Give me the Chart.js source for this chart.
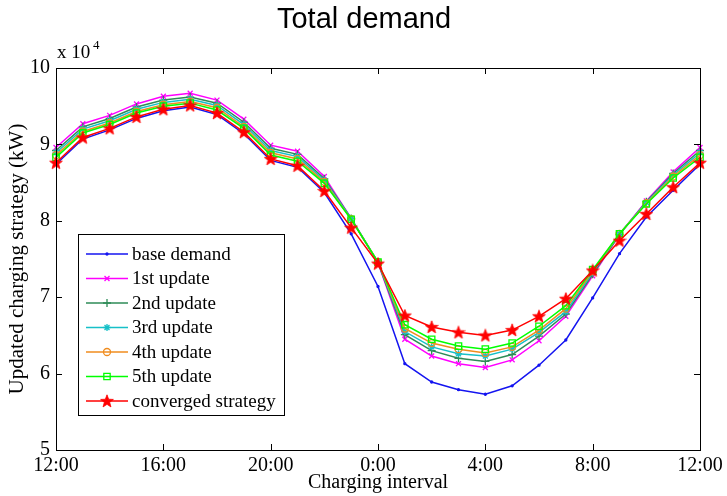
<!DOCTYPE html>
<html>
<head>
<meta charset="utf-8">
<script src="https://cdn.jsdelivr.net/npm/chart.js@4.4.0/dist/chart.umd.min.js"></script>
<style>
  html, body { margin: 0; padding: 0; background: #ffffff; }
  #wrap { width: 727px; height: 496px; position: relative; }
</style>
</head>
<body>
<div id="wrap"><canvas id="c" width="727" height="496"></canvas></div>
<script>
// ---- data (values in units of 10^4 kW), hour offsets 0..24 from 12:00 ----
const hours = [0,1,2,3,4,5,6,7,8,9,10,11,12,13,14,15,16,17,18,19,20,21,22,23,24];
const xTickLabels = ['12:00','16:00','20:00','0:00','4:00','8:00','12:00'];
const yTickLabels = ['5','6','7','8','9','10'];
const seriesNames = ['base demand','1st update','2nd update','3rd update','4th update','5th update','converged strategy'];

const baseDemand = [8.74,9.07,9.19,9.34,9.44,9.49,9.39,9.14,8.79,8.70,8.37,7.83,7.14,6.13,5.89,5.79,5.73,5.84,6.11,6.44,6.99,7.57,8.05,8.40,8.74];
const update1    = [8.96,9.27,9.38,9.53,9.63,9.67,9.58,9.33,8.99,8.91,8.58,8.03,7.45,6.45,6.23,6.13,6.08,6.18,6.43,6.75,7.28,7.82,8.26,8.64,8.96];
const update2    = [8.92,9.23,9.34,9.49,9.58,9.62,9.54,9.29,8.95,8.87,8.55,8.03,7.45,6.51,6.30,6.20,6.16,6.25,6.49,6.78,7.30,7.82,8.25,8.62,8.92];
const update3    = [8.89,9.20,9.31,9.46,9.55,9.59,9.51,9.26,8.92,8.84,8.53,8.03,7.46,6.55,6.35,6.26,6.23,6.32,6.54,6.81,7.32,7.83,8.24,8.60,8.89];
const update4    = [8.86,9.17,9.28,9.43,9.52,9.56,9.48,9.23,8.89,8.81,8.51,8.02,7.46,6.59,6.40,6.32,6.27,6.35,6.57,6.85,7.34,7.83,8.23,8.58,8.86];
const update5    = [8.83,9.15,9.26,9.41,9.50,9.54,9.45,9.21,8.86,8.78,8.49,8.02,7.46,6.64,6.45,6.36,6.32,6.40,6.62,6.89,7.36,7.83,8.22,8.56,8.83];
const converged  = [8.76,9.09,9.21,9.36,9.46,9.51,9.41,9.16,8.81,8.72,8.39,7.91,7.44,6.76,6.61,6.54,6.50,6.57,6.75,6.98,7.35,7.74,8.09,8.44,8.76];

const allSeries = [baseDemand, update1, update2, update3, update4, update5, converged];
const colors = ['#1414f0','#ff00ff','#2e8b57','#17c0c8','#f08c1e','#00ff00','#ff0000'];

// filled five-pointed star marker
function makeStar(size, color) {
  const c = document.createElement('canvas');
  c.width = size; c.height = size;
  const g = c.getContext('2d');
  const cx = size / 2, cy = size / 2 + 0.5, R = size / 2 - 0.3, r = R * 0.42;
  g.beginPath();
  for (let i = 0; i < 10; i++) {
    const rad = (i % 2 === 0) ? R : r;
    const a = -Math.PI / 2 + i * Math.PI / 5;
    const px = cx + rad * Math.cos(a), py = cy + rad * Math.sin(a);
    if (i === 0) g.moveTo(px, py); else g.lineTo(px, py);
  }
  g.closePath();
  g.fillStyle = color; g.fill();
  g.strokeStyle = color; g.lineWidth = 0.8; g.stroke();
  return c;
}
const starImg = makeStar(14, '#ff0000');

const styles = [
  { pointStyle: 'circle',   radius: 1,   fill: true },
  { pointStyle: 'crossRot', radius: 3.5, fill: false },
  { pointStyle: 'cross',    radius: 4,   fill: false },
  { pointStyle: 'star',     radius: 3.5, fill: false },
  { pointStyle: 'circle',   radius: 3.5, fill: false },
  { pointStyle: 'rect',     radius: 4.5, fill: false },
  { pointStyle: starImg,    radius: 6,   fill: true }
];

const datasets = allSeries.map((vals, i) => ({
  label: seriesNames[i],
  data: hours.map((h, k) => ({ x: h, y: vals[k] })),
  borderColor: colors[i],
  backgroundColor: styles[i].fill ? colors[i] : 'rgba(0,0,0,0)',
  pointBorderColor: colors[i],
  pointBackgroundColor: styles[i].fill ? colors[i] : 'rgba(0,0,0,0)',
  borderWidth: 1.5,
  pointBorderWidth: 1.3,
  pointStyle: styles[i].pointStyle,
  pointRadius: styles[i].radius,
  pointHoverRadius: styles[i].radius,
  tension: 0,
  clip: false,
  order: allSeries.length - i
}));

const SERIF = '"Liberation Serif", "Times New Roman", serif';
const SANS = '"Liberation Sans", Arial, sans-serif';

const decor = {
  id: 'decor',
  afterDraw(chart) {
    const ctx = chart.ctx;
    const a = chart.chartArea;
    const xs = chart.scales.x, ys = chart.scales.y;
    ctx.save();
    // box
    ctx.strokeStyle = '#000'; ctx.lineWidth = 1;
    ctx.strokeRect(Math.round(a.left) + 0.5, Math.round(a.top) + 0.5, Math.round(a.right - a.left), Math.round(a.bottom - a.top));
    // inward ticks
    const tl = 6;
    ctx.beginPath();
    for (let v = 5; v <= 10; v++) {
      const y = Math.round(ys.getPixelForValue(v)) + 0.5;
      ctx.moveTo(a.left, y); ctx.lineTo(a.left + tl, y);
      ctx.moveTo(a.right, y); ctx.lineTo(a.right - tl, y);
    }
    for (let v = 0; v <= 24; v += 4) {
      const x = Math.round(xs.getPixelForValue(v)) + 0.5;
      ctx.moveTo(x, a.bottom); ctx.lineTo(x, a.bottom - tl);
      ctx.moveTo(x, a.top); ctx.lineTo(x, a.top + tl);
    }
    ctx.stroke();

    // title
    ctx.fillStyle = '#000';
    ctx.font = '29px ' + SANS;
    ctx.textAlign = 'center'; ctx.textBaseline = 'alphabetic';
    ctx.fillText('Total demand', 364, 28);

    // exponent label
    ctx.font = '19px ' + SERIF;
    ctx.textAlign = 'left';
    ctx.fillText('x 10', 57, 58);
    ctx.font = '13px ' + SERIF;
    ctx.fillText('4', 93, 49);

    // legend
    const lx = 78, ly = 234, lw = 206, lh = 181;
    ctx.fillStyle = '#fff';
    ctx.fillRect(lx, ly, lw, lh);
    ctx.strokeStyle = '#000'; ctx.lineWidth = 1;
    ctx.strokeRect(lx + 0.5, ly + 0.5, lw, lh);
    const rows = [254, 278.5, 303, 327.5, 352, 376.5, 401];
    datasets.forEach((ds, i) => {
      const y = rows[i];
      ctx.strokeStyle = ds.borderColor; ctx.lineWidth = 1.5;
      ctx.beginPath(); ctx.moveTo(86, y); ctx.lineTo(128, y); ctx.stroke();
      ctx.fillStyle = ds.pointBackgroundColor;
      ctx.strokeStyle = ds.pointBorderColor;
      ctx.lineWidth = 1.3;
      Chart.helpers.drawPoint(ctx, { pointStyle: ds.pointStyle, radius: ds.pointRadius, rotation: 0, borderWidth: 1.3 }, 107, y);
      ctx.fillStyle = '#000';
      ctx.font = '19px ' + SERIF;
      ctx.textAlign = 'left'; ctx.textBaseline = 'middle';
      ctx.fillText(ds.label, 132, y + 1);
    });
    ctx.restore();
  }
};

new Chart(document.getElementById('c'), {
  type: 'line',
  data: { datasets },
  options: {
    responsive: false,
    animation: false,
    devicePixelRatio: 1,
    layout: { padding: { left: 0, right: 27, top: 68, bottom: 0 } },
    plugins: { legend: { display: false }, title: { display: false }, tooltip: { enabled: false } },
    scales: {
      x: {
        type: 'linear', min: 0, max: 24,
        afterFit(s) { s.height = 46; },
        grid: { display: false, drawTicks: false },
        border: { display: true, color: '#000' },
        ticks: {
          stepSize: 4, padding: 4, color: '#000', maxRotation: 0,
          font: { family: SERIF, size: 20 },
          callback: (v) => xTickLabels[Math.round(v / 4)]
        },
        title: { display: true, text: 'Charging interval', color: '#000', font: { family: SERIF, size: 20 }, padding: { top: 0, bottom: 1 } }
      },
      y: {
        type: 'linear', min: 5, max: 10,
        afterFit(s) { s.width = 56; },
        grid: { display: false, drawTicks: false },
        border: { display: true, color: '#000' },
        ticks: {
          stepSize: 1, padding: 6, color: '#000',
          font: { family: SERIF, size: 20 },
          callback: (v) => yTickLabels[Math.round(v - 5)]
        },
        title: { display: true, text: 'Updated charging strategy (kW)', color: '#000', font: { family: SERIF, size: 21 }, padding: { top: 5, bottom: 0 } }
      }
    }
  },
  plugins: [decor]
});
</script>
</body>
</html>
